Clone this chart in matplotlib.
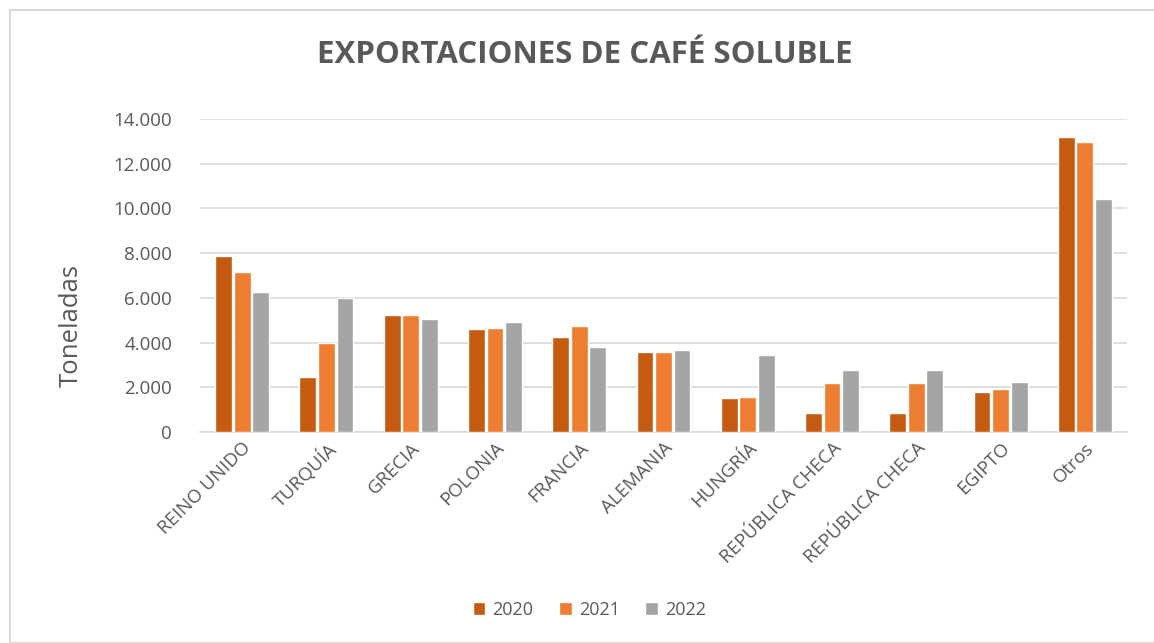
import numpy as np
import matplotlib
matplotlib.use('Agg')
import matplotlib.pyplot as plt
from matplotlib import ticker
from matplotlib.patches import Rectangle

# datos (toneladas)
paises = ['REINO UNIDO', 'TURQUÍA', 'GRECIA', 'POLONIA', 'FRANCIA', 'ALEMANIA',
          'HUNGRÍA', 'REPÚBLICA CHECA', 'REPÚBLICA CHECA', 'EGIPTO', 'Otros']
anios = ['2020', '2021', '2022']
v2020 = [7850, 2480, 5240, 4610, 4270, 3580, 1500, 860, 860, 1770, 13190]
v2021 = [7150, 3980, 5240, 4670, 4730, 3580, 1550, 2180, 2180, 1910, 12960]
v2022 = [6280, 5990, 5060, 4900, 3800, 3680, 3440, 2760, 2760, 2240, 10410]
colores = ['#C55A11', '#ED7D31', '#A5A5A5']

plt.rcParams['font.family'] = ['Open Sans', 'DejaVu Sans']

fig = plt.figure(figsize=(11.54, 6.43), dpi=100)
ax = fig.add_axes([0.1733, 0.3282, 0.8033, 0.4867])

# marco del gráfico
fig.patches.append(Rectangle((10 / 1154, 0), 1.2, 1 - 10 / 643, transform=fig.transFigure,
                             fill=False, edgecolor='#D9D9D9', linewidth=1.5))

x = np.arange(len(paises))
paso = 0.22
for i, (serie, c) in enumerate(zip([v2020, v2021, v2022], colores)):
    ax.bar(x + (i - 1) * paso, serie, width=0.2, color=c, edgecolor='white',
           linewidth=1, label=anios[i], zorder=3)

ax.set_xlim(-0.5, len(paises) - 0.5)
ax.set_ylim(0, 14000)
ax.yaxis.set_major_locator(ticker.MultipleLocator(2000))
ax.yaxis.set_major_formatter(ticker.FuncFormatter(lambda v, p: f'{int(v):,}'.replace(',', '.')))
ax.grid(axis='y', color='#D9D9D9', linewidth=1.2, zorder=0)
for s in ['top', 'right', 'left']:
    ax.spines[s].set_visible(False)
ax.spines['bottom'].set_color('#D9D9D9')
ax.spines['bottom'].set_linewidth(1.2)
ax.tick_params(axis='both', length=0, colors='#595959', labelsize=13.5)
ax.tick_params(axis='y', pad=20)
ax.set_xticks(x)
ax.set_xticklabels(paises, rotation=45, ha='right', rotation_mode='anchor')
ax.tick_params(axis='x', pad=5)

ax.set_ylabel('Toneladas', fontsize=18.5, color='#595959')
ax.yaxis.set_label_coords(-0.125, 0.34)
fig.text(0.507, 0.914, 'EXPORTACIONES DE CAFÉ SOLUBLE', ha='center', va='center',
         fontsize=22.5, fontweight='bold', color='#595959')

ax.legend(loc='center', bbox_to_anchor=(0.42, -0.569), ncol=3, frameon=False,
          fontsize=13, labelcolor='#595959', handlelength=0.7, handleheight=0.7,
          handletextpad=0.4, columnspacing=1.4)

fig.savefig('out.png', dpi=100)
